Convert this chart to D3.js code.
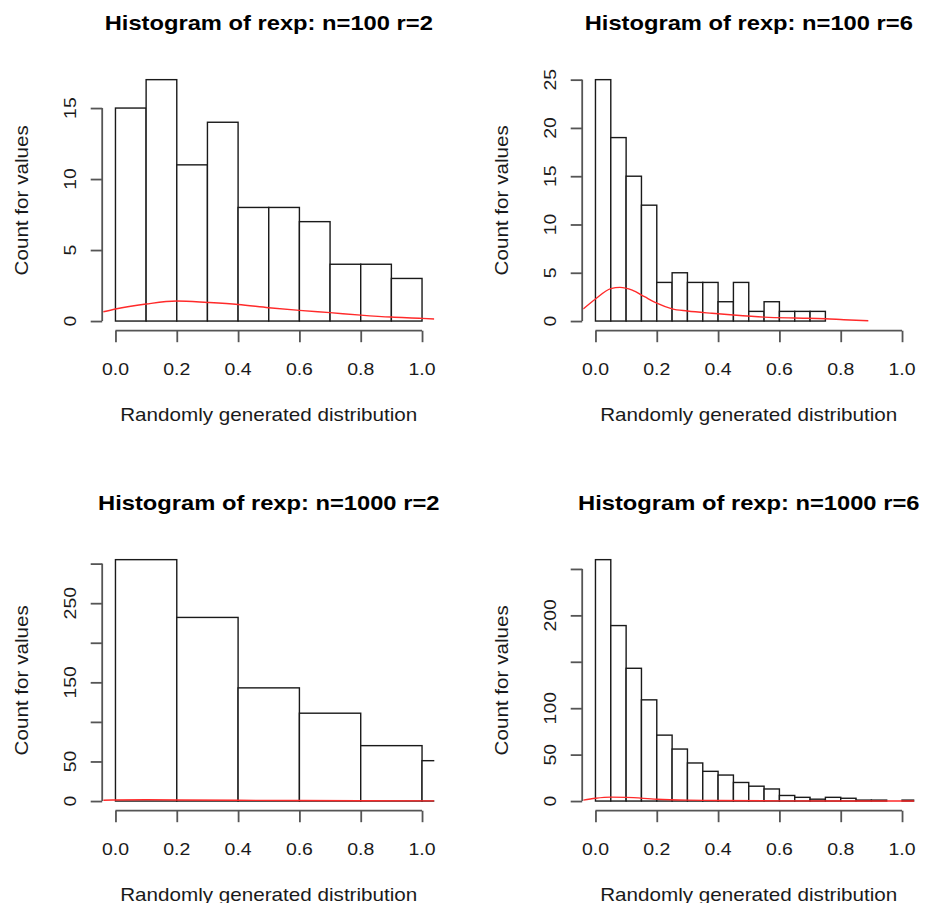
<!DOCTYPE html>
<html>
<head>
<meta charset="utf-8">
<script src="https://cdnjs.cloudflare.com/ajax/libs/d3/7.8.5/d3.min.js"></script>
<style>
  body { margin: 0; background: #fff; }
  text { font-family: 'Liberation Sans', Arial, Helvetica, sans-serif; }
</style>
</head>
<body>
<div id="my_chart"></div>
<script>
const chartID = '#my_chart';

const titles = [
  'Histogram of rexp: n=100 r=2',
  'Histogram of rexp: n=100 r=6',
  'Histogram of rexp: n=1000 r=2',
  'Histogram of rexp: n=1000 r=6',
];
const xLabel = 'Randomly generated distribution';
const yLabel = 'Count for values';
const xTicks = [0.0, 0.2, 0.4, 0.6, 0.8, 1.0];

// n=100, r=2
const breaksA = [0.0, 0.1, 0.2, 0.3, 0.4, 0.5, 0.6, 0.7, 0.8, 0.9, 1.0, 1.1];
const countsA = [15, 17, 11, 14, 8, 8, 7, 4, 4, 3, 0];
const yTicksA = [0, 5, 10, 15];
const yTickLabelsA = ['0', '5', '10', '15'];
const densXA = [-0.04, 0.0, 0.1, 0.2, 0.3, 0.4, 0.5, 0.6, 0.7, 0.8, 0.9, 1.0, 1.04];
const densYA = [0.65, 0.85, 1.2, 1.41, 1.31, 1.17, 0.94, 0.75, 0.59, 0.42, 0.28, 0.19, 0.14];

// n=100, r=6
const breaksB = [0.0, 0.05, 0.1, 0.15, 0.2, 0.25, 0.3, 0.35, 0.4, 0.45, 0.5, 0.55, 0.6, 0.65, 0.7, 0.75];
const countsB = [25, 19, 15, 12, 4, 5, 4, 4, 2, 4, 1, 2, 1, 1, 1];
const yTicksB = [0, 5, 10, 15, 20, 25];
const yTickLabelsB = ['0', '5', '10', '15', '20', '25'];
const densXB = [-0.04, 0.0, 0.05, 0.08, 0.12, 0.16, 0.2, 0.25, 0.3, 0.38, 0.45, 0.55, 0.65, 0.75, 0.81, 0.89];
const densYB = [1.24, 2.28, 3.35, 3.49, 3.2, 2.52, 1.85, 1.26, 1.04, 0.8, 0.62, 0.41, 0.31, 0.24, 0.14, 0.03];

// n=1000, r=2
const breaksC = [0.0, 0.2, 0.4, 0.6, 0.8, 1.0, 1.2];
const countsC = [305, 232, 143, 111, 70, 51];
const yTicksC = [0, 50, 100, 150, 200, 250, 300];
const yTickLabelsC = ['0', '50', '', '150', '', '250', ''];
const densXC = [-0.04, 0.0, 0.1, 0.2, 0.4, 0.6, 0.8, 1.04];
const densYC = [1.0, 1.3, 1.55, 1.4, 0.95, 0.6, 0.4, 0.22];

// n=1000, r=6
const breaksD = [0.0, 0.05, 0.1, 0.15, 0.2, 0.25, 0.3, 0.35, 0.4, 0.45, 0.5,
  0.55, 0.6, 0.65, 0.7, 0.75, 0.8, 0.85, 0.9, 0.95, 1.0, 1.05];
const countsD = [260, 189, 143, 109, 71, 56, 41, 32, 28, 20, 16, 13, 6, 4, 2, 4, 3, 1, 1, 0, 1];
const yTicksD = [0, 50, 100, 150, 200, 250];
const yTickLabelsD = ['0', '50', '100', '', '200', ''];
const densXD = [-0.04, 0.0, 0.05, 0.1, 0.2, 0.3, 0.4, 0.6, 0.8, 1.04];
const densYD = [1.0, 3.0, 4.2, 4.0, 2.0, 1.0, 0.55, 0.15, 0.05, 0.02];

const panels = [
  { breaks: breaksA, counts: countsA, yTicks: yTicksA, yLabels: yTickLabelsA, dx: densXA, dy: densYA },
  { breaks: breaksB, counts: countsB, yTicks: yTicksB, yLabels: yTickLabelsB, dx: densXB, dy: densYB },
  { breaks: breaksC, counts: countsC, yTicks: yTicksC, yLabels: yTickLabelsC, dx: densXC, dy: densYC },
  { breaks: breaksD, counts: countsD, yTicks: yTicksD, yLabels: yTickLabelsD, dx: densXD, dy: densYD },
];

// each figure cell and its plot region
const cellSize = 480;
const margin = { top: 70, right: 45.7, bottom: 149.3, left: 103.2 };
const stretch = 1.18;

const addText = (g, str, x, y, size, opts = {}) => {
  const rot = opts.rotate ? ' rotate(-90)' : '';
  const sx = opts.stretch || stretch;
  g.append('text')
    .attr('transform', `translate(${x}, ${y})${rot} scale(${sx}, 1)`)
    .attr('text-anchor', 'middle')
    .style('font-size', size + 'px')
    .style('font-weight', opts.bold ? 'bold' : 'normal')
    .style('fill', opts.bold ? '#000' : '#1a1a1a')
    .text(str);
};

const drawPanel = (svg, panel, index) => {
  const col = index % 2;
  const row = Math.floor(index / 2);
  const g = svg
    .append('g')
    .attr('transform', `translate(${col * cellSize}, ${row * cellSize})`);

  const maxCount = d3.max(panel.counts);
  const xScale = d3
    .scaleLinear()
    .domain([-0.04, 1.04])
    .range([margin.left, cellSize - margin.right]);
  const yScale = d3
    .scaleLinear()
    .domain([-0.04 * maxCount, 1.04 * maxCount])
    .range([cellSize - margin.bottom, margin.top]);

  const clipId = 'clip' + index;
  g.append('clipPath')
    .attr('id', clipId)
    .append('rect')
    .attr('x', margin.left)
    .attr('y', margin.top)
    .attr('width', cellSize - margin.left - margin.right)
    .attr('height', cellSize - margin.top - margin.bottom);

  const plot = g.append('g').attr('clip-path', `url(#${clipId})`);

  // bars
  plot
    .selectAll('rect.bar')
    .data(panel.counts)
    .join('rect')
    .attr('class', 'bar')
    .attr('x', (d, i) => xScale(panel.breaks[i]))
    .attr('width', (d, i) => xScale(panel.breaks[i + 1]) - xScale(panel.breaks[i]))
    .attr('y', (d) => yScale(d))
    .attr('height', (d) => yScale(0) - yScale(d))
    .style('fill', '#fff')
    .style('stroke', '#1a1a1a')
    .style('stroke-width', 1.4);

  // density line
  const densData = panel.dx.map((x, i) => [x, panel.dy[i]]);
  plot
    .append('path')
    .datum(densData)
    .attr('d', d3.line().x((d) => xScale(d[0])).y((d) => yScale(d[1])).curve(d3.curveMonotoneX))
    .style('fill', 'none')
    .style('stroke', '#ff2a2a')
    .style('stroke-width', 1.4);

  // x axis
  const plotBottom = cellSize - margin.bottom;
  const xAxis = g
    .append('g')
    .attr('transform', `translate(0, ${plotBottom})`)
    .call(
      d3.axisBottom(xScale)
        .tickValues(xTicks)
        .tickSize(11.5)
        .tickFormat(d3.format('.1f'))
    );
  xAxis.select('.domain').remove();
  xAxis.selectAll('text').remove();
  xAxis.selectAll('line').style('stroke', '#555').style('stroke-width', 1.8);
  xAxis
    .append('line')
    .attr('x1', xScale(xTicks[0]))
    .attr('x2', xScale(xTicks[xTicks.length - 1]))
    .style('stroke', '#555')
    .style('stroke-width', 1.8);
  xTicks.forEach((t) => {
    addText(g, d3.format('.1f')(t), xScale(t), plotBottom + 44.3, 16.5);
  });

  // y axis
  const yAxis = g
    .append('g')
    .attr('transform', `translate(${margin.left - 1}, 0)`)
    .call(d3.axisLeft(yScale).tickValues(panel.yTicks).tickSize(11.5));
  yAxis.select('.domain').remove();
  yAxis.selectAll('text').remove();
  yAxis.selectAll('line').style('stroke', '#555').style('stroke-width', 1.8);
  yAxis
    .append('line')
    .attr('y1', yScale(panel.yTicks[0]))
    .attr('y2', yScale(panel.yTicks[panel.yTicks.length - 1]))
    .style('stroke', '#555')
    .style('stroke-width', 1.8);
  panel.yTicks.forEach((t, i) => {
    if (panel.yLabels[i]) {
      addText(g, panel.yLabels[i], margin.left - 27, yScale(t), 16.5, { rotate: true });
    }
  });

  // titles and labels
  const midX = (margin.left + cellSize - margin.right) / 2;
  const midY = (margin.top + plotBottom) / 2;
  addText(g, titles[index], midX, 30, 21, { bold: true, stretch: 1.13 });
  addText(g, xLabel, midX, 420.5, 17.5);
  addText(g, yLabel, 27.5, midY, 17.5, { rotate: true });
};

const svg = d3
  .select(chartID)
  .append('svg')
  .attr('width', 930)
  .attr('height', 903);

svg.append('rect').attr('width', 930).attr('height', 903).style('fill', '#fff');

panels.forEach((panel, i) => drawPanel(svg, panel, i));
</script>
</body>
</html>
